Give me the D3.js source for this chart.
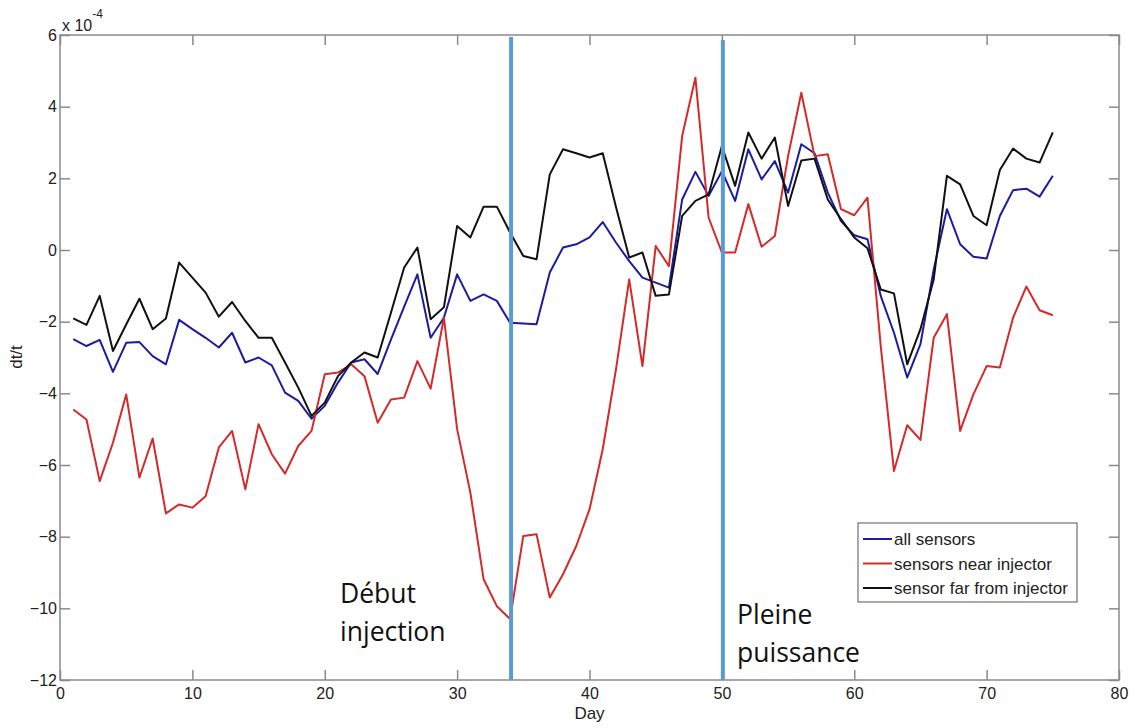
<!DOCTYPE html>
<html>
<head>
<meta charset="utf-8">
<script src="https://cdn.jsdelivr.net/npm/d3@7"></script>
<style>
  body { margin: 0; background: #fff; }
  #canvas svg { display: block; }
</style>
</head>
<body>
<div id="canvas"></div>
<script>
/* Configuration variables: drawing */
let svgWidth = 1135;
let svgHeight = 728;
let plotLeft = 60, plotRight = 1119, plotTop = 35, plotBottom = 680;

/* Data (dt/t in units of 1e-4) */
let days = [1, 2, 3, 4, 5, 6, 7, 8, 9, 10, 11, 12, 13, 14, 15, 16, 17, 18, 19, 20,
    21, 22, 23, 24, 25, 26, 27, 28, 29, 30, 31, 32, 33, 34, 35, 36, 37, 38, 39, 40,
    41, 42, 43, 44, 45, 46, 47, 48, 49, 50, 51, 52, 53, 54, 55, 56, 57, 58, 59, 60,
    61, 62, 63, 64, 65, 66, 67, 68, 69, 70, 71, 72, 73, 74, 75];

let allSensors = [-2.49, -2.68, -2.51, -3.40, -2.59, -2.57, -2.96, -3.19, -1.95, -2.21,
    -2.45, -2.72, -2.31, -3.14, -3.00, -3.22, -3.98, -4.21, -4.71, -4.35,
    -3.70, -3.14, -3.05, -3.46, -2.50, -1.58, -0.68, -2.45, -1.89, -0.68,
    -1.42, -1.24, -1.42, -2.03, -2.05, -2.07, -0.63, 0.07, 0.16, 0.35,
    0.78, 0.21, -0.31, -0.77, -0.91, -1.05, 1.41, 2.18, 1.51, 2.20,
    1.37, 2.81, 1.97, 2.48, 1.60, 2.95, 2.70, 1.60, 0.81, 0.41,
    0.30, -1.28, -2.31, -3.56, -2.63, -0.55, 1.14, 0.16, -0.19, -0.24,
    0.95, 1.67, 1.71, 1.49, 2.07];

let nearInjector = [-4.45, -4.73, -6.45, -5.38, -4.03, -6.35, -5.26, -7.35, -7.10, -7.19,
    -6.87, -5.51, -5.05, -6.68, -4.86, -5.70, -6.24, -5.47, -5.05, -3.47,
    -3.42, -3.19, -3.52, -4.82, -4.17, -4.12, -3.10, -3.87, -1.89, -5.00,
    -6.77, -9.19, -9.94, -10.30, -7.98, -7.93, -9.70, -9.05, -8.26, -7.24,
    -5.56, -3.33, -0.82, -3.24, 0.11, -0.45, 3.18, 4.81, 0.90, -0.07,
    -0.07, 1.28, 0.09, 0.39, 2.62, 4.39, 2.62, 2.67, 1.14, 0.97,
    1.46, -2.68, -6.17, -4.89, -5.30, -2.45, -1.79, -5.05, -4.03, -3.24,
    -3.28, -1.89, -1.02, -1.68, -1.82];

let farInjector = [-1.91, -2.09, -1.28, -2.82, -2.08, -1.36, -2.21, -1.91, -0.35, -0.77,
    -1.19, -1.86, -1.45, -1.98, -2.45, -2.45, -3.14, -3.84, -4.63, -4.26,
    -3.52, -3.14, -2.86, -3.00, -1.75, -0.49, 0.07, -1.93, -1.60, 0.67,
    0.35, 1.21, 1.21, 0.49, -0.17, -0.26, 2.11, 2.81, 2.70, 2.58,
    2.70, 1.20, -0.21, -0.07, -1.28, -1.24, 0.95, 1.37, 1.55, 2.90,
    1.79, 3.28, 2.55, 3.14, 1.23, 2.50, 2.55, 1.41, 0.86, 0.35,
    0.05, -1.10, -1.21, -3.19, -2.21, -0.82, 2.07, 1.83, 0.95, 0.69,
    2.23, 2.83, 2.55, 2.44, 3.28];

let seriesNames = ["all sensors", "sensors near injector", "sensor far from injector"];
let seriesColors = ["#1c1c9c", "#d42a2a", "#111111"];

let xTicks = [0, 10, 20, 30, 40, 50, 60, 70, 80];
let yTicks = [-12, -10, -8, -6, -4, -2, 0, 2, 4, 6];

/* event markers: day and label lines */
let eventDays = [34, 50];
let eventLabels = [["Début", "injection"], ["Pleine", "puissance"]];

/* Create drawing canvas */
let svg = d3.select("#canvas")
    .append("svg")
    .attr("width", svgWidth)
    .attr("height", svgHeight)
    .style("font-family", "'Liberation Sans', Arial, sans-serif");

let xScale = d3.scaleLinear()
    .domain([0, 80])
    .range([plotLeft, plotRight]);

let yScale = d3.scaleLinear()
    .domain([-12, 6])
    .range([plotBottom, plotTop]);

let axisColor = "#8a8a8a";

/* Axes with ticks pointing inward (matlab look) */
svg.append("g")
    .attr("transform", `translate(0, ${plotBottom})`)
    .call(d3.axisBottom(xScale).tickValues(xTicks).tickSizeInner(-10).tickSizeOuter(0).tickPadding(8));

svg.append("g")
    .attr("transform", `translate(0, ${plotTop})`)
    .call(d3.axisTop(xScale).tickValues(xTicks).tickSizeInner(-10).tickSizeOuter(0).tickFormat(""));

svg.append("g")
    .attr("transform", `translate(${plotLeft}, 0)`)
    .call(d3.axisLeft(yScale).tickValues(yTicks).tickSizeInner(-10).tickSizeOuter(0).tickPadding(3));

svg.append("g")
    .attr("transform", `translate(${plotRight}, 0)`)
    .call(d3.axisRight(yScale).tickValues(yTicks).tickSizeInner(-10).tickSizeOuter(0).tickFormat(""));

svg.selectAll(".domain").remove();
svg.selectAll(".tick line").attr("stroke", axisColor).attr("stroke-width", 1.5);
svg.selectAll(".tick text").attr("fill", "#222").style("font-size", "16px");

/* Frame */
svg.append("rect")
    .attr("x", plotLeft)
    .attr("y", plotTop)
    .attr("width", plotRight - plotLeft)
    .attr("height", plotBottom - plotTop)
    .attr("fill", "none")
    .attr("stroke", axisColor)
    .attr("stroke-width", 1.5);

/* Exponent label */
let expo = svg.append("text")
    .attr("x", plotLeft + 2)
    .attr("y", 31)
    .attr("fill", "#222")
    .style("font-size", "16px");
expo.append("tspan").text("x 10");
expo.append("tspan").attr("dy", -13).style("font-size", "12px").text("-4");

/* Axis titles */
svg.append("text")
    .attr("x", xScale(40))
    .attr("y", 719)
    .attr("text-anchor", "middle")
    .attr("fill", "#222")
    .style("font-size", "17px")
    .text("Day");

svg.append("text")
    .attr("transform", "translate(22, 357) rotate(-90)")
    .attr("text-anchor", "middle")
    .attr("fill", "#222")
    .style("font-size", "17px")
    .text("dt/t");

/* Lines */
let seriesData = [allSensors, nearInjector, farInjector];

let line = d3.line()
    .x(function(d, i) { return xScale(days[i]); })
    .y(function(d) { return yScale(d); });

svg.selectAll(".series")
    .data(seriesData)
    .enter()
    .append("path")
    .attr("class", "series")
    .attr("d", line)
    .attr("fill", "none")
    .attr("stroke", function(d, i) { return seriesColors[i]; })
    .attr("stroke-width", 2)
    .attr("stroke-linejoin", "round");

/* Event lines, added on top of the plot */
svg.selectAll(".event")
    .data(eventDays)
    .enter()
    .append("line")
    .attr("x1", function(d) { return xScale(d) + 1; })
    .attr("x2", function(d) { return xScale(d) + 1; })
    .attr("y1", function(d, i) { return i == 0 ? 37 : 40; })
    .attr("y2", plotBottom)
    .attr("stroke", "#5b9bd5")
    .attr("stroke-width", 4);

/* Event labels */
let labelPos = [[340, 603, 641], [737, 624, 662]];
eventLabels.forEach(function(lines, i) {
    lines.forEach(function(t, j) {
        svg.append("text")
            .attr("x", labelPos[i][0])
            .attr("y", labelPos[i][j + 1])
            .attr("fill", "#111")
            .style("font-family", "'Open Sans', 'Noto Sans', sans-serif")
            .style("font-size", "26.5px")
            .text(t);
    });
});

/* Legend */
let legend = svg.append("g");
legend.append("rect")
    .attr("x", 858)
    .attr("y", 523)
    .attr("width", 219)
    .attr("height", 79)
    .attr("fill", "#fff")
    .attr("stroke", "#555")
    .attr("stroke-width", 1);

seriesNames.forEach(function(name, i) {
    let ly = 539 + i * 24.5;
    legend.append("line")
        .attr("x1", 863).attr("x2", 892)
        .attr("y1", ly).attr("y2", ly)
        .attr("stroke", seriesColors[i])
        .attr("stroke-width", 2);
    legend.append("text")
        .attr("x", 894)
        .attr("y", ly + 6)
        .attr("fill", "#222")
        .style("font-size", "17px")
        .text(name);
});
</script>
</body>
</html>
